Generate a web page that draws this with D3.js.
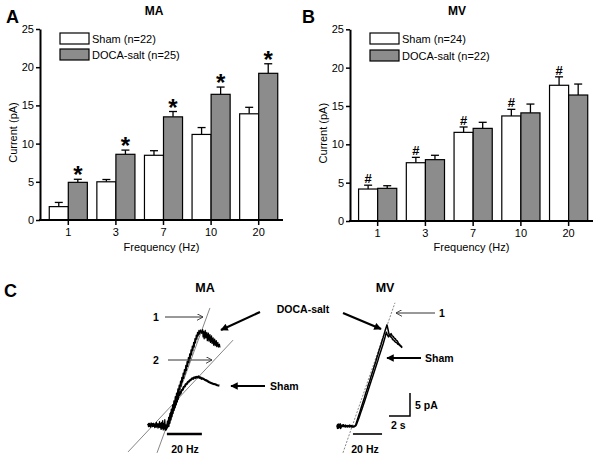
<!DOCTYPE html>
<html><head><meta charset="utf-8">
<script src="https://cdn.jsdelivr.net/npm/d3@7"></script>
<style>body{margin:0;background:#fff}svg{display:block}text{font-family:"Liberation Sans",Arial,Helvetica,sans-serif;fill:#000}</style>
</head><body><svg id="c" width="600" height="460"></svg>
<script>
// ---------- data ----------
const frequencies = ["1", "3", "7", "10", "20"];
const groups = ["Sham", "DOCA-salt"];
const yTicks = [0, 5, 10, 15, 20, 25];
const maSham = [1.75, 5.0, 8.47, 11.2, 13.9];
const maShamErr = [0.55, 0.3, 0.6, 0.9, 0.85];
const maDoca = [4.93, 8.6, 13.5, 16.45, 19.2];
const maDocaErr = [0.4, 0.55, 0.7, 0.95, 1.25];
const mvSham = [4.17, 7.6, 11.56, 13.7, 17.7];
const mvShamErr = [0.5, 0.7, 0.7, 0.86, 1.1];
const mvDoca = [4.26, 8.0, 12.08, 14.1, 16.43];
const mvDocaErr = [0.34, 0.57, 0.79, 1.15, 1.43];
const maLegend = ["Sham (n=22)", "DOCA-salt (n=25)"];
const mvLegend = ["Sham (n=24)", "DOCA-salt (n=22)"];

// traces (time s, current pA)
const maDocaTrace = [[0,0.9],[0.05,0.3],[0.1,1.0],[0.15,0.4],[0.2,0.8],[0.25,0.2],[0.3,1.1],[0.35,0.5],[0.4,0.9],[0.45,0.3],[0.5,1.0],[0.55,0.4],[0.6,0.8],[0.65,0.1],[0.7,0.9],[0.75,0.3],[0.8,1.2],[0.85,0.4],[0.9,0.7],[0.95,0.0],[1.0,0.9],[1.05,0.2],[1.1,1.4],[1.15,0.1],[1.2,1.0],[1.25,-0.3],[1.3,1.2],[1.35,0.0],[1.4,1.6],[1.45,-0.4],[1.5,1.0],[1.55,-0.2],[1.6,1.8],[1.65,-0.5],[1.7,0.6],[1.75,-0.4],[1.8,0.2],
[1.85,1.5],[1.9,0.4],[1.97,2.3],[2.02,1.1],[2.1,3.2],[2.15,2.0],[2.22,4.1],[2.27,3.0],[2.35,5.0],[2.4,3.9],[2.47,5.9],[2.52,4.8],[2.6,6.8],[2.65,5.7],[2.72,7.6],[2.77,6.6],[2.85,8.5],[2.9,7.4],[2.97,9.3],[3.02,8.3],[3.1,10.2],[3.15,9.1],[3.22,11.0],[3.27,10.0],[3.35,11.9],[3.4,10.8],[3.47,12.7],[3.52,11.7],[3.6,13.6],[3.65,12.5],[3.72,14.4],[3.77,13.4],[3.85,15.3],[3.9,14.2],[3.97,16.1],[4.02,15.1],[4.1,17.0],[4.15,15.9],[4.22,17.8],[4.27,16.8],[4.35,18.6],[4.4,17.6],[4.47,19.4],[4.52,18.5],[4.6,20.2],[4.65,19.3],[4.72,20.8],[4.77,20.0],[4.85,21.2],[4.9,20.4],[5.0,21.3],[5.1,20.6],[5.2,21.4],
[5.25,19.8],[5.3,21.0],[5.35,19.4],[5.45,21.2],[5.5,19.6],[5.6,20.8],[5.65,19.0],[5.75,20.6],[5.8,18.9],[5.9,20.3],[5.95,18.6],[6.05,20.0],[6.1,18.4],[6.2,19.6],[6.25,18.0],[6.35,19.3],[6.4,17.9],[6.5,19.0],[6.55,17.7],[6.65,18.6],[6.7,17.6],[6.8,18.2],[6.85,17.5]];
const maShamTrace = [[0,0.6],[0.1,0.9],[0.2,0.4],[0.3,0.8],[0.4,0.5],[0.5,0.9],[0.6,0.4],[0.7,0.7],[0.8,0.3],[0.9,0.8],[1.0,0.4],[1.1,0.7],[1.2,0.2],[1.3,0.8],[1.4,0.1],[1.5,0.6],[1.6,0.0],[1.7,0.5],[1.8,0.1],
[1.9,1.0],[1.95,0.4],[2.0,1.8],[2.05,1.1],[2.1,2.6],[2.15,1.8],[2.2,3.3],[2.25,2.5],[2.3,3.9],[2.35,3.2],[2.4,4.6],[2.45,3.9],[2.5,5.1],[2.55,4.5],[2.6,5.7],[2.65,5.1],[2.7,6.2],[2.75,5.7],[2.8,6.7],[2.85,6.3],[2.9,7.1],[3.0,7.2],[3.05,7.8],[3.1,7.5],[3.2,8.2],[3.3,8.3],[3.4,8.9],[3.5,9.0],[3.6,9.5],[3.7,9.6],[3.8,10.0],[3.9,10.1],[4.0,10.4],[4.1,10.5],[4.2,10.8],[4.3,10.7],[4.4,11.0],[4.5,10.9],[4.6,11.1],[4.7,11.0],[4.8,11.2],[4.9,10.9],[5.0,11.0],[5.1,10.7],[5.2,10.8],[5.4,10.5],[5.6,10.3],[5.8,10.0],[6.0,9.8],[6.2,9.6],[6.4,9.5],[6.6,9.3],[6.8,9.2]];
const mvDocaTrace = [[0,0.3],[0.05,-0.3],[0.1,0.6],[0.15,-0.2],[0.2,0.5],[0.25,-0.1],[0.3,0.7],[0.35,-0.3],[0.4,0.4],[0.5,0.1],[0.6,0.5],[0.7,0.1],[0.8,0.4],[0.9,0.1],[1.0,0.3],[1.1,0.1],[1.2,0.4],[1.3,0.1],[1.4,0.3],[1.5,0.0],[1.6,0.2],[1.7,0.1],
[1.8,0.6],[1.9,1.3],[2.0,2.0],[2.1,2.7],[2.2,3.4],[2.3,4.2],[2.4,4.9],[2.5,5.6],[2.6,6.3],[2.7,7.1],[2.8,7.8],[2.9,8.5],[3.0,9.3],[3.1,9.9],[3.2,10.7],[3.3,11.4],[3.4,12.1],[3.5,12.9],[3.6,13.6],[3.7,14.3],[3.8,15.1],[3.9,15.8],[4.0,16.6],[4.1,17.3],[4.2,18.0],[4.3,18.8],[4.4,19.5],[4.5,20.3],[4.6,21.1],[4.76,22.2],[4.85,21.3],[4.95,20.2],[5.05,20.0],[5.15,20.3],[5.25,19.8],[5.35,19.7],[5.45,19.3],[5.55,19.2],[5.65,18.8],[5.75,18.7],[5.85,18.2],[5.95,18.0],[6.05,17.6],[6.2,17.2]];
const mvShamTrace = [[0,0.1],[0.05,0.5],[0.1,-0.2],[0.15,0.6],[0.2,0.0],[0.3,0.4],[0.4,0.0],[0.5,0.4],[0.6,0.1],[0.7,0.3],[0.8,0.0],[0.9,0.3],[1.0,0.0],[1.1,0.3],[1.2,0.0],[1.3,0.3],[1.4,0.0],[1.5,0.2],[1.6,0.0],[1.7,0.2],
[1.8,0.3],[1.9,0.8],[2.0,1.4],[2.1,2.0],[2.2,2.7],[2.3,3.4],[2.4,4.0],[2.5,4.7],[2.6,5.4],[2.7,6.1],[2.8,6.8],[2.9,7.5],[3.0,8.2],[3.1,8.9],[3.2,9.6],[3.3,10.3],[3.4,11.0],[3.5,11.7],[3.6,12.4],[3.7,13.1],[3.8,13.8],[3.9,14.5],[4.0,15.3],[4.1,16.0],[4.2,16.7],[4.3,17.4],[4.4,18.1],[4.5,18.9],[4.6,19.7],[4.7,20.6],[4.8,20.0],[4.9,19.6],[5.0,20.1],[5.1,19.6],[5.2,19.5],[5.3,19.0],[5.4,18.9],[5.5,18.6],[5.6,18.4],[5.7,18.3],[5.8,18.0],[5.9,17.9],[6.0,17.7],[6.1,17.6],[6.2,17.4]];
const maGuide1 = [[0.86,-5.4],[5.9,26.1]];
const maGuide2 = [[-1.9,-5.2],[8.1,19.1]];
const mvGuide1 = [[0.57,-5.6],[5.52,27.0]];
const maStim = [1.8, 5.13];
const mvStim = [1.52, 4.29];
const scaleBarPA = 5, scaleBarS = 2;

// ---------- drawing ----------
const svg = d3.select("#c");
const FONT = '"Liberation Sans",Arial,Helvetica,sans-serif';

function barPanel(o) {
  const g = svg.append("g");
  const x = d3.scaleBand().domain(frequencies).range(o.xr).paddingInner(0.2).paddingOuter(0.1);
  const xs = d3.scaleBand().domain(groups).range([0, x.bandwidth()]);
  const y = d3.scaleLinear().domain([0, 25]).range(o.yr);
  const rows = [];
  frequencies.forEach((f, i) => {
    rows.push({f, g: "Sham", v: o.sham[i], e: o.shamErr[i]});
    rows.push({f, g: "DOCA-salt", v: o.doca[i], e: o.docaErr[i]});
  });
  const eb = g.append("g").attr("stroke", "#000").attr("stroke-width", 1.3);
  rows.forEach(d => {
    const cx = x(d.f) + xs(d.g) + xs.bandwidth() / 2;
    eb.append("line").attr("x1", cx).attr("x2", cx).attr("y1", y(d.v)).attr("y2", y(d.v + d.e));
    eb.append("line").attr("x1", cx - 4).attr("x2", cx + 4).attr("y1", y(d.v + d.e)).attr("y2", y(d.v + d.e));
  });
  g.selectAll("rect.bar").data(rows).join("rect").attr("class", "bar")
    .attr("x", d => x(d.f) + xs(d.g)).attr("width", xs.bandwidth())
    .attr("y", d => y(d.v)).attr("height", d => y(0) - y(d.v))
    .attr("fill", d => d.g === "Sham" ? "#fff" : "#8c8c8c")
    .attr("stroke", "#000").attr("stroke-width", 1.2);
  rows.filter(d => d.g === o.markGroup).forEach(d => {
    const cx = x(d.f) + xs(d.g) + xs.bandwidth() / 2;
    g.append("text").attr("x", cx).attr("y", y(d.v + d.e) + o.markDy)
      .attr("text-anchor", "middle").attr("font-weight", "bold")
      .attr("font-size", o.markSize).text(o.mark);
  });
  const ya = g.append("g").attr("transform", `translate(${o.axisX},0)`)
    .call(d3.axisLeft(y).tickValues(yTicks).tickSize(4).tickSizeOuter(0).tickPadding(2));
  ya.select(".domain").attr("stroke-width", 2);
  ya.selectAll(".tick line").attr("stroke-width", 1.5);
  ya.selectAll("text").attr("font-size", 11).attr("font-family", FONT);
  const xa = g.append("g").attr("transform", `translate(0,${y(0)})`)
    .call(d3.axisBottom(x).tickSize(5).tickSizeOuter(0).tickPadding(3));
  xa.select(".domain").remove();
  xa.selectAll(".tick line").attr("stroke-width", 1.5);
  xa.selectAll("text").attr("font-size", 11).attr("font-family", FONT);
  g.append("line").attr("x1", o.axisX - 1).attr("x2", o.xEnd).attr("y1", y(0)).attr("y2", y(0))
    .attr("stroke", "#000").attr("stroke-width", 2);
  g.append("text").attr("transform", `translate(${o.yLabelX},${(y(0) + y(25)) / 2 + 8}) rotate(-90)`)
    .attr("text-anchor", "middle").attr("font-size", 11).text("Current (pA)");
  g.append("text").attr("x", (o.axisX + o.xEnd) / 2).attr("y", 251)
    .attr("text-anchor", "middle").attr("font-size", 11).text("Frequency (Hz)");
  g.append("text").attr("x", o.titleX).attr("y", 15).attr("text-anchor", "middle")
    .attr("font-size", 12).attr("font-weight", "bold").text(o.title);
  g.append("text").attr("x", o.letterX).attr("y", 23).attr("font-size", 18)
    .attr("font-weight", "bold").text(o.letter);
  o.legend.forEach((t, i) => {
    const ly = o.legY[i];
    g.append("rect").attr("x", o.legX).attr("y", ly).attr("width", 29).attr("height", 11)
      .attr("fill", i === 0 ? "#fff" : "#8c8c8c").attr("stroke", "#000").attr("stroke-width", 1.2);
    g.append("text").attr("x", o.legX + 32).attr("y", ly + 10).attr("font-size", 11).text(t);
  });
}

barPanel({xr: [44.5, 282.5], yr: [220, 29], axisX: 40, xEnd: 283, sham: maSham, shamErr: maShamErr,
  doca: maDoca, docaErr: maDocaErr, markGroup: "DOCA-salt", mark: "*", markSize: 24, markDy: 4,
  yLabelX: 17, titleX: 154, title: "MA", letterX: 6, letter: "A", legend: maLegend, legX: 60, legY: [33, 49]});
barPanel({xr: [353.8, 592.5], yr: [221, 29.3], axisX: 350, xEnd: 593, sham: mvSham, shamErr: mvShamErr,
  doca: mvDoca, docaErr: mvDocaErr, markGroup: "Sham", mark: "#", markSize: 13, markDy: -2,
  yLabelX: 327, titleX: 457, title: "MV", letterX: 302, letter: "B", legend: mvLegend, legX: 370, legY: [33, 50]});

// ---------- panel C ----------
const defs = svg.append("defs");
defs.append("marker").attr("id", "solidHead").attr("viewBox", "0 0 10 10").attr("refX", 9).attr("refY", 5)
  .attr("markerWidth", 4).attr("markerHeight", 3.4).attr("markerUnits", "strokeWidth").attr("orient", "auto")
  .append("path").attr("d", "M0,0 L10,5 L0,10 Z").attr("fill", "#000");
defs.append("marker").attr("id", "openHead").attr("viewBox", "0 0 10 10").attr("refX", 9).attr("refY", 5)
  .attr("markerWidth", 7).attr("markerHeight", 7).attr("markerUnits", "strokeWidth").attr("orient", "auto")
  .append("path").attr("d", "M0,0 L9,5 L0,10").attr("fill", "none").attr("stroke", "#333").attr("stroke-width", 1.3);

const gc = svg.append("g");
const maX = d3.scaleLinear().domain([0, 2]).range([148, 169]);
const maY = d3.scaleLinear().domain([0, 5]).range([428, 405]);
const mvX = d3.scaleLinear().domain([0, 2]).range([337, 358]);
const mvY = d3.scaleLinear().domain([0, 5]).range([427, 404]);
const lineMA = d3.line().x(d => maX(d[0])).y(d => maY(d[1]));
const lineMV = d3.line().x(d => mvX(d[0])).y(d => mvY(d[1]));

gc.append("path").attr("d", lineMA(maGuide1)).attr("stroke", "#666").attr("stroke-width", 0.8).attr("fill", "none");
gc.append("path").attr("d", lineMA(maGuide2)).attr("stroke", "#666").attr("stroke-width", 0.8).attr("fill", "none");
gc.append("path").attr("d", lineMV(mvGuide1)).attr("stroke", "#666").attr("stroke-width", 0.8).attr("stroke-dasharray", "2,1.5").attr("fill", "none");

gc.append("path").attr("d", lineMA(maShamTrace)).attr("stroke", "#000").attr("stroke-width", 2.2).attr("fill", "none").attr("stroke-linejoin", "round");
gc.append("path").attr("d", lineMA(maDocaTrace)).attr("stroke", "#000").attr("stroke-width", 1.3).attr("fill", "none").attr("stroke-linejoin", "round");
gc.append("path").attr("d", lineMV(mvDocaTrace)).attr("stroke", "#000").attr("stroke-width", 1.5).attr("fill", "none").attr("stroke-linejoin", "round");
gc.append("path").attr("d", lineMV(mvShamTrace)).attr("stroke", "#000").attr("stroke-width", 1.5).attr("fill", "none").attr("stroke-linejoin", "round");

gc.append("line").attr("x1", maX(maStim[0])).attr("x2", maX(maStim[1])).attr("y1", 434).attr("y2", 434).attr("stroke", "#000").attr("stroke-width", 2.4);
gc.append("line").attr("x1", mvX(mvStim[0])).attr("x2", mvX(mvStim[1])).attr("y1", 434).attr("y2", 434).attr("stroke", "#000").attr("stroke-width", 1.6);

const sbx = 410, sby = 416;
gc.append("path").attr("d", `M${sbx - (mvX(scaleBarS) - mvX(0))},${sby} H${sbx} V${sby - (mvY(0) - mvY(scaleBarPA))}`)
  .attr("stroke", "#000").attr("stroke-width", 1.5).attr("fill", "none");

function txt(x, y, s, size, anchor) {
  gc.append("text").attr("x", x).attr("y", y).attr("font-size", size).attr("font-weight", "bold")
    .attr("text-anchor", anchor || "start").text(s);
}
txt(4, 297, "C", 18);
txt(205, 292, "MA", 12.5, "middle");
txt(385, 292, "MV", 12.5, "middle");
txt(303, 313, "DOCA-salt", 10.5, "middle");
txt(156, 321, "1", 10.5, "middle");
txt(156, 364, "2", 10.5, "middle");
txt(442, 317, "1", 10.5, "middle");
txt(270, 390, "Sham", 10.5);
txt(425, 362, "Sham", 10.5);
txt(415, 409, "5 pA", 10.5);
txt(391, 429, "2 s", 10.5);
txt(185, 453, "20 Hz", 10.5, "middle");
txt(365, 453, "20 Hz", 10.5, "middle");

function arrow(x1, y1, x2, y2, thick) {
  gc.append("line").attr("x1", x1).attr("y1", y1).attr("x2", x2).attr("y2", y2)
    .attr("stroke", thick ? "#000" : "#333").attr("stroke-width", thick ? 2.2 : 1)
    .attr("marker-end", thick ? "url(#solidHead)" : "url(#openHead)");
}
arrow(165, 317, 203, 317, false);
arrow(168, 360, 212, 360, false);
arrow(435, 313, 396, 313, false);
arrow(260, 312, 221, 330, true);
arrow(343, 313, 381, 329, true);
arrow(265, 386, 231, 386, true);
arrow(421, 358, 387, 358, true);
</script></body></html>
